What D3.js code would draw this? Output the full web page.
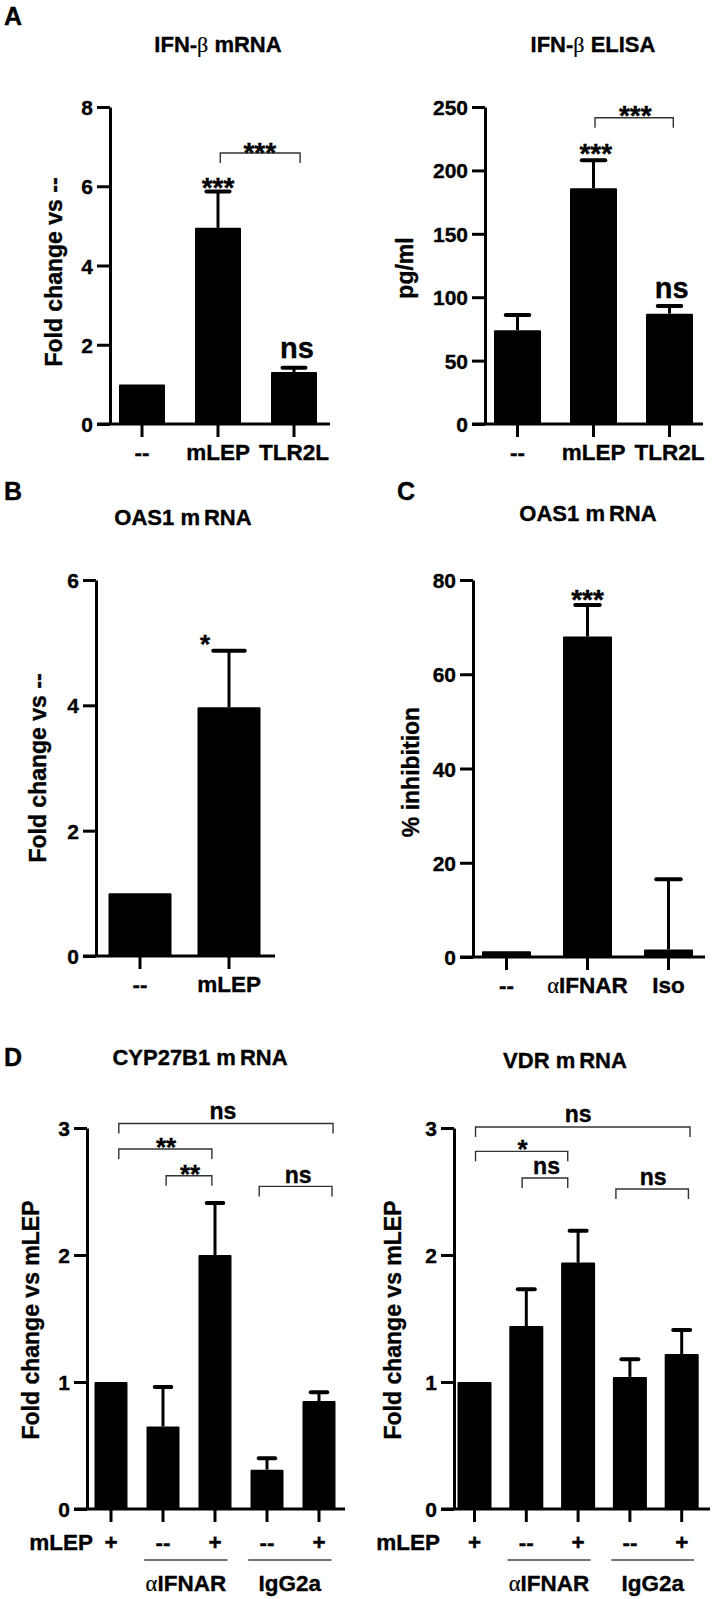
<!DOCTYPE html>
<html><head><meta charset="utf-8">
<script src="https://cdn.jsdelivr.net/npm/d3@7"></script>
<style>
html,body{margin:0;padding:0;background:#fff;}
svg text{font-family:"Liberation Sans",Arial,Helvetica,sans-serif;font-weight:bold;fill:#000;stroke:#000;stroke-width:0.35px;}
</style></head><body>
<svg id="fig" width="713" height="1599"></svg>
<script>
// ---------------- data ----------------
const aCats = ["--", "mLEP", "TLR2L"];
const aMrnaValues = [1.0, 4.95, 1.31];
const aMrnaErrors = [0, 0.92, 0.11];
const aMrnaTicks = [0, 2, 4, 6, 8];
const aMrnaSig = [
  {text: "***", pos: 1.0, val: 5.73, size: 28},
  {text: "***", pos: 1.55, val: 6.61, size: 28},
  {text: "ns", pos: 2.04, val: 1.67, size: 29}
];
const aMrnaBrackets = [{from: 1.03, to: 2.08, val: 6.84}];

const aElisaValues = [74, 186, 87];
const aElisaErrors = [12, 22, 6];
const aElisaTicks = [0, 50, 100, 150, 200, 250];
const aElisaSig = [
  {text: "***", pos: 1.03, val: 206, size: 28},
  {text: "***", pos: 1.55, val: 236, size: 28},
  {text: "ns", pos: 2.03, val: 99.7, size: 29}
];
const aElisaBrackets = [{from: 1.02, to: 2.05, val: 241.5}];

const bCats = ["--", "mLEP"];
const bValues = [1.0, 3.97];
const bErrors = [0, 0.9];
const bTicks = [0, 2, 4, 6];
const bSig = [{text: "*", pos: 0.73, val: 4.83, size: 26}];

const cCats = ["--", "αIFNAR", "Iso"];
const cValues = [1.2, 68, 1.6];
const cErrors = [0, 6.7, 14.9];
const cTicks = [0, 20, 40, 60, 80];
const cSig = [{text: "***", pos: 1.0, val: 73.9, size: 28}];

const dTreatment = ["+", "--", "+", "--", "+"];
const dGroups = [{label: "αIFNAR", from: 1, to: 2}, {label: "IgG2a", from: 3, to: 4}];
const dTicks = [0, 1, 2, 3];
const dCypValues = [1.0, 0.65, 2.0, 0.31, 0.85];
const dCypErrors = [0, 0.31, 0.41, 0.09, 0.07];
const dCypSig = [
  {text: "ns", pos: 2.15, val: 3.07, size: 23},
  {text: "**", pos: 1.06, val: 2.78, size: 26},
  {text: "**", pos: 1.52, val: 2.565, size: 26},
  {text: "ns", pos: 3.6, val: 2.57, size: 23}
];
const dCypBrackets = [
  {from: 0.15, to: 4.27, val: 3.035},
  {from: 0.15, to: 1.94, val: 2.835},
  {from: 1.06, to: 1.94, val: 2.624},
  {from: 2.85, to: 4.25, val: 2.54}
];
const dVdrValues = [1.0, 1.44, 1.94, 1.04, 1.22];
const dVdrErrors = [0, 0.29, 0.25, 0.14, 0.19];
const dVdrSig = [
  {text: "ns", pos: 2.0, val: 3.05, size: 23},
  {text: "*", pos: 0.93, val: 2.76, size: 26},
  {text: "ns", pos: 1.39, val: 2.64, size: 23},
  {text: "ns", pos: 3.45, val: 2.553, size: 23}
];
const dVdrBrackets = [
  {from: 0.02, to: 4.16, val: 3.008},
  {from: 0.02, to: 1.8, val: 2.816},
  {from: 0.92, to: 1.8, val: 2.606},
  {from: 2.73, to: 4.13, val: 2.52}
];

// ---------------- drawing ----------------
const svg = d3.select("#fig");
const GREEK = '"Liberation Serif","DejaVu Serif",serif';

function richText(sel, parts) {
  parts.forEach(p => {
    const t = sel.append("tspan").text(p.t);
    if (p.greek) t.attr("font-family", GREEK).attr("font-weight", "normal").style("stroke-width", "0.2px");
    if (p.dx) t.attr("dx", p.dx);
  });
  return sel;
}
function splitGreek(s) {
  const out = [];
  for (const ch of s) {
    const g = /[α-ωΑ-Ω]/.test(ch);
    if (out.length && out[out.length - 1].greek === g) out[out.length - 1].t += ch;
    else out.push({t: ch, greek: g});
  }
  return out;
}

function panel(cfg) {
  const g = svg.append("g");
  const n = cfg.values.length;
  const pad = 1 - cfg.barW / cfg.step;
  const x = d3.scaleBand().domain(d3.range(n))
    .range([cfg.c0 - cfg.step / 2, cfg.c0 - cfg.step / 2 + n * cfg.step])
    .paddingInner(pad).paddingOuter(pad / 2);
  const xc = p => x(0) + x.bandwidth() / 2 + p * x.step();
  const y = d3.scaleLinear().domain(cfg.domain).range([cfg.yBot, cfg.yTop]);

  // bars
  g.selectAll("rect.bar").data(cfg.values).join("rect").attr("class", "bar")
    .attr("x", (d, i) => x(i) + 1).attr("width", x.bandwidth() - 2)
    .attr("y", d => y(d) + 1).attr("height", d => Math.max(0, y(0) - y(d) - 1))
    .attr("fill", "#000").attr("stroke", "#000").attr("stroke-width", 2)
    .attr("stroke-linejoin", "round");

  // error bars (upper)
  const errData = cfg.values.map((v, i) => ({i, v, e: cfg.errors[i]})).filter(d => d.e > 0);
  g.selectAll("line.err").data(errData).join("line").attr("class", "err")
    .attr("x1", d => xc(d.i)).attr("x2", d => xc(d.i))
    .attr("y1", d => y(d.v)).attr("y2", d => y(d.v + d.e))
    .attr("stroke", "#000").attr("stroke-width", 3);
  g.selectAll("line.cap").data(errData).join("line").attr("class", "cap")
    .attr("x1", d => xc(d.i) - x.bandwidth() / 4).attr("x2", d => xc(d.i) + x.bandwidth() / 4)
    .attr("y1", d => y(d.v + d.e)).attr("y2", d => y(d.v + d.e))
    .attr("stroke", "#000").attr("stroke-width", 4).attr("stroke-linecap", "round");

  // y axis
  const ya = g.append("g").attr("transform", `translate(${cfg.yAxisX},0)`)
    .call(d3.axisLeft(y).tickValues(cfg.ticks).tickSize(13).tickSizeOuter(0).tickPadding(4)
      .tickFormat(d3.format("d")));
  ya.attr("font-family", null).attr("font-size", null);
  ya.select(".domain").attr("stroke-width", 3).attr("stroke", "#000");
  ya.selectAll(".tick line").attr("stroke-width", 3).attr("stroke", "#000");
  ya.selectAll(".tick text").attr("font-size", 21).attr("dy", "0.36em");

  // x axis
  const xa = g.append("g").attr("transform", `translate(0,${cfg.yBot})`)
    .call(d3.axisBottom(x).tickSize(13).tickSizeOuter(0).tickPadding(cfg.labelPad)
      .tickFormat(i => cfg.cats[i]));
  xa.attr("font-family", null).attr("font-size", null);
  xa.select(".domain").remove();
  xa.selectAll(".tick line").attr("stroke-width", 3).attr("stroke", "#000");
  xa.selectAll(".tick text").attr("font-size", 22.5).text(null)
    .each(function(i) { richText(d3.select(this), splitGreek(cfg.cats[i])); });
  g.append("line").attr("x1", cfg.yAxisX - 13).attr("x2", cfg.xEnd)
    .attr("y1", cfg.yBot).attr("y2", cfg.yBot).attr("stroke", "#000").attr("stroke-width", 3);

  // title
  const t = g.append("text").attr("x", cfg.titleX).attr("y", cfg.titleY)
    .attr("text-anchor", "middle").attr("font-size", 22);
  richText(t, cfg.title);

  // y label
  g.append("text").attr("transform", `translate(${cfg.yLabelX},${cfg.yLabelY}) rotate(-90)`)
    .attr("text-anchor", "middle").attr("font-size", 23).text(cfg.yLabel);

  // brackets
  (cfg.brackets || []).forEach(b => {
    const yy = y(b.val);
    g.append("path")
      .attr("d", `M${xc(b.from)},${yy + 10}V${yy}H${xc(b.to)}V${yy + 10}`)
      .attr("fill", "none").attr("stroke", "#333").attr("stroke-width", 1.4);
  });
  // significance text
  (cfg.sig || []).forEach(s => {
    g.append("text").attr("x", xc(s.pos)).attr("y", y(s.val)).attr("text-anchor", "middle")
      .attr("font-size", s.size).text(s.text);
  });

  // treatment rows (panel D)
  if (cfg.rowLabelX) {
    g.append("text").attr("x", cfg.rowLabelX).attr("y", cfg.yBot + 13 + cfg.labelPad)
      .attr("dy", "0.71em").attr("text-anchor", "end").attr("font-size", 22.5).text("mLEP");
    cfg.groups.forEach(gr => {
      g.append("line").attr("x1", xc(gr.from - 0.36)).attr("x2", xc(gr.to + 0.24))
        .attr("y1", cfg.yBot + 51).attr("y2", cfg.yBot + 51)
        .attr("stroke", "#444").attr("stroke-width", 1.4);
      const gt = g.append("text").attr("x", xc((gr.from + gr.to) / 2 - 0.06))
        .attr("y", cfg.yBot + 82).attr("text-anchor", "middle").attr("font-size", 22.5);
      richText(gt, splitGreek(gr.label));
    });
  }
}

// panel letters
[["A", 4, 25], ["B", 4, 500], ["C", 397, 500], ["D", 4, 1066]].forEach(([l, lx, ly]) => {
  svg.append("text").attr("x", lx).attr("y", ly).attr("font-size", 25).text(l);
});

panel({cats: aCats, values: aMrnaValues, errors: aMrnaErrors, ticks: aMrnaTicks, domain: [0, 8],
  yAxisX: 110, yTop: 107, yBot: 424, c0: 142, step: 76, barW: 46, xEnd: 330, labelPad: 7,
  title: [{t: "IFN-"}, {t: "β", greek: true}, {t: " mRNA"}], titleX: 218, titleY: 52,
  yLabel: "Fold change vs --", yLabelX: 62, yLabelY: 272, sig: aMrnaSig, brackets: aMrnaBrackets});

panel({cats: aCats, values: aElisaValues, errors: aElisaErrors, ticks: aElisaTicks, domain: [0, 250],
  yAxisX: 485, yTop: 107, yBot: 424, c0: 517.5, step: 76, barW: 47, xEnd: 703, labelPad: 7,
  title: [{t: "IFN-"}, {t: "β", greek: true}, {t: " ELISA"}], titleX: 593, titleY: 52,
  yLabel: "pg/ml", yLabelX: 413, yLabelY: 268, sig: aElisaSig, brackets: aElisaBrackets});

panel({cats: bCats, values: bValues, errors: bErrors, ticks: bTicks, domain: [0, 6],
  yAxisX: 96, yTop: 580, yBot: 956, c0: 140, step: 89, barW: 63, xEnd: 275, labelPad: 7,
  title: [{t: "OAS1 m"}, {t: "RNA", dx: 4}], titleX: 183, titleY: 525,
  yLabel: "Fold change vs --", yLabelX: 46, yLabelY: 768, sig: bSig});

panel({cats: cCats, values: cValues, errors: cErrors, ticks: cTicks, domain: [0, 80],
  yAxisX: 473, yTop: 580, yBot: 957, c0: 506.5, step: 81, barW: 49, xEnd: 705, labelPad: 7,
  title: [{t: "OAS1 m"}, {t: "RNA", dx: 4}], titleX: 588, titleY: 521,
  yLabel: "% inhibition", yLabelX: 419, yLabelY: 772, sig: cSig});

panel({cats: dTreatment, values: dCypValues, errors: dCypErrors, ticks: dTicks, domain: [0, 3],
  yAxisX: 87, yTop: 1128, yBot: 1509, c0: 111, step: 52, barW: 33, xEnd: 345, labelPad: 12,
  title: [{t: "CYP27B1 m"}, {t: "RNA", dx: 4}], titleX: 200, titleY: 1065,
  yLabel: "Fold change vs mLEP", yLabelX: 39, yLabelY: 1320, sig: dCypSig, brackets: dCypBrackets,
  rowLabelX: 93, groups: dGroups});

panel({cats: dTreatment, values: dVdrValues, errors: dVdrErrors, ticks: dTicks, domain: [0, 3],
  yAxisX: 454, yTop: 1128, yBot: 1509, c0: 474.5, step: 51.8, barW: 34, xEnd: 710, labelPad: 12,
  title: [{t: "VDR m"}, {t: "RNA", dx: 4}], titleX: 565, titleY: 1068,
  yLabel: "Fold change vs mLEP", yLabelX: 401, yLabelY: 1320, sig: dVdrSig, brackets: dVdrBrackets,
  rowLabelX: 440, groups: dGroups});
</script>
</body></html>
